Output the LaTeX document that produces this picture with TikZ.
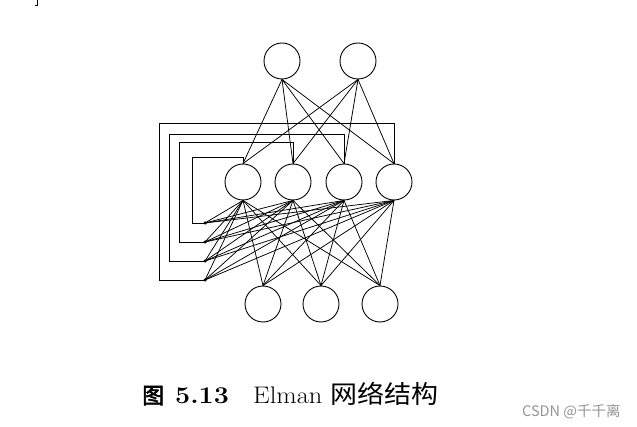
\documentclass[tikz,border=0pt]{standalone}
\usepackage{graphicx}
\usepackage{fontspec}
\newfontfamily\cjk{Noto Sans CJK SC}
\newfontfamily\cjkb[FakeBold=2.5]{Noto Sans CJK SC}
\begin{document}
\begin{tikzpicture}[x=1pt,y=-1pt,
  neuron/.style={draw,circle,line width=0.9pt,minimum size=36pt,inner sep=0pt},
  ctx/.style={circle,fill=black,minimum size=3.5pt,inner sep=0pt},
  wire/.style={line width=0.75pt},
  fb/.style={line width=0.9pt},
  captext/.style={anchor=base west,inner sep=0pt}]
\useasboundingbox (0,0) rectangle (637,427);
% output layer
\node[neuron] (o1) at (282,61) {};
\node[neuron] (o2) at (358,61) {};
% hidden layer
\node[neuron] (h1) at (243,182) {};
\node[neuron] (h2) at (293,182) {};
\node[neuron] (h3) at (344,182) {};
\node[neuron] (h4) at (394,182) {};
% input layer
\node[neuron] (i1) at (263,304) {};
\node[neuron] (i2) at (321,304) {};
\node[neuron] (i3) at (380,304) {};
% context units
\node[ctx] (c1) at (205,223) {};
\node[ctx] (c2) at (205,242) {};
\node[ctx] (c3) at (205,261) {};
\node[ctx] (c4) at (205,280) {};
% output-hidden
\foreach \o in {o1,o2}
  \foreach \h in {h1,h2,h3,h4}
    \draw[wire] (\o.south) -- (\h.north);
% hidden-context and hidden-input
\foreach \h in {h1,h2,h3,h4}{
  \foreach \c in {c1,c2,c3,c4}
    \draw[wire] (\h.south) -- (\c.center);
  \foreach \i in {i1,i2,i3}
    \draw[wire] (\h.south) -- (\i.north);
}
% feedback loops
\coordinate (f1) at (192,157);
\coordinate (f2) at (179,142);
\coordinate (f3) at (169,134);
\coordinate (f4) at (159,123);
\draw[fb] (h1.north) |- (f1) |- (c1.center);
\draw[fb] (h2.north) |- (f2) |- (c2.center);
\draw[fb] (h3.north) |- (f3) |- (c3.center);
\draw[fb] (h4.north) |- (f4) |- (c4.center);
% stray mark top-left
\draw[line width=0.8pt] (37.5,0) -- (37.5,5) -- (35,5);
% caption
\node[captext,font=\fontsize{22}{24}\selectfont\cjkb] (cap1) at (142,403.5) {图};
\node[captext,font=\fontsize{24}{26}\selectfont\bfseries] (cap2) at (175,403) {\scalebox{1.12}[1]{5.13}};
\node[captext,font=\fontsize{24}{26}\selectfont] (cap3) at (253,403) {\scalebox{1.1}[1]{Elman}};
\node[captext,font=\fontsize{25}{26}\selectfont\cjk] (cap4) at (330,403.5) {\scalebox{1.08}[1]{网络结构}};
% watermark
\node[captext,text=black!42,font=\fontsize{14.5}{16}\selectfont\cjk] (wm) at (522,416) {CSDN @千千离};
\end{tikzpicture}
\end{document}
